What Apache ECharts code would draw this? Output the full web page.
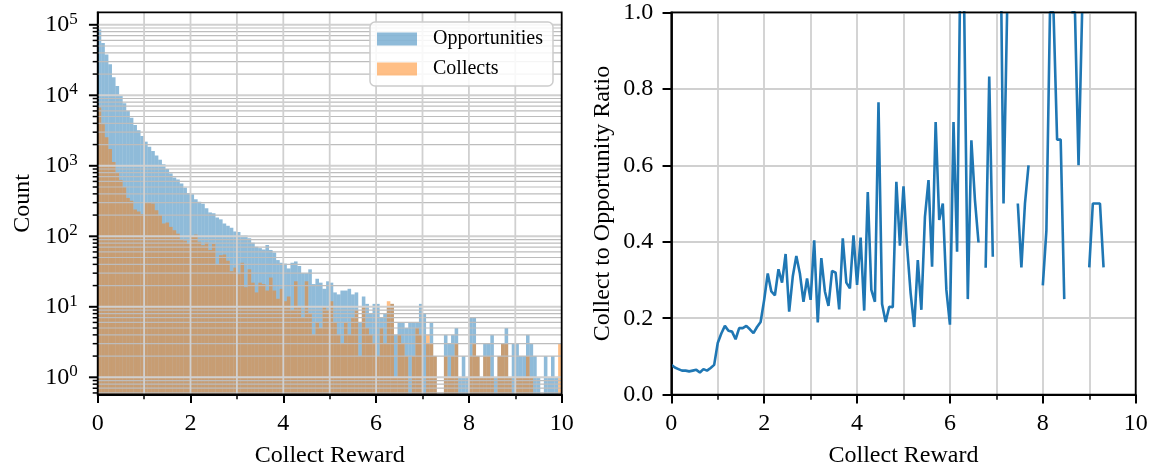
<!DOCTYPE html>
<html>
<head>
<meta charset="utf-8">
<script src="https://cdn.jsdelivr.net/npm/echarts@6/dist/echarts.min.js"></script>
<style>
html, body { margin: 0; background: #fff; }
#chart { width: 1151px; height: 467px; }
</style>
</head>
<body>
<div id="chart"></div>
<script>
// 130 equal bins of Collect Reward over 0..10
var binCount = 130;
var rewardMax = 10;

var opportunities = [
    86000, 55000, 38000, 27500, 18000, 13500, 10000, 7700, 6000, 4800,
    3800, 3200, 2650, 2200, 1860, 1620, 1400, 1220, 1050, 900,
    780, 680, 640, 560, 490, 410, 395, 335, 310, 290,
    250, 218, 212, 185, 174, 152, 141, 132, 117, 115,
    103, 103, 94, 81, 71, 68, 65, 75, 64, 59,
    46, 42, 41, 35, 42, 44, 38, 30, 30, 34,
    21, 25, 22, 18, 23, 22, 16, 15, 17, 17,
    18, 15, 16, 6, 14, 11, 8, 11, 11, 7,
    8, 10, 11, 4, 6, 6, 5, 6, 6, 6,
    11, 8, 3, 6, 2, 0, 0, 4, 3, 4,
    5, 1, 2, 1, 7, 7, 2, 1, 3, 3,
    4, 1, 2, 3, 5, 1, 3, 3, 2, 2,
    4, 3, 2, 1, 0, 2, 1, 2, 1, 0
];
var collects = [
    6700, 3900, 2550, 1730, 1130, 820, 630, 500, 350, 320,
    240, 225, 207, 297, 298, 292, 234, 201, 152, 157,
    136, 122, 109, 90, 87, 78, 98, 106, 84, 75,
    82, 64, 78, 40, 54, 55, 45, 32, 36, 29,
    42, 19, 34, 22, 16, 22, 21, 17, 26, 17,
    13, 18, 12, 14, 9, 23, 10, 7, 23, 8,
    4, 6, 5, 10, 9, 12, 6, 4, 3, 6,
    4, 7, 9, 2, 10, 5, 4, 3, 2, 5,
    3, 12, 11, 1, 4, 3, 2, 0, 2, 5,
    4, 0, 4, 3, 2, 0, 0, 2, 1, 2,
    3, 0, 0, 0, 2, 3, 2, 1, 2, 2,
    1, 0, 2, 3, 3, 1, 0, 1, 1, 1,
    2, 1, 0, 0, 0, 0, 0, 0, 0, 3
];
var ratio = [
    0.078, 0.071, 0.067, 0.063, 0.063, 0.061, 0.063, 0.065, 0.058, 0.067,
    0.063, 0.070, 0.078, 0.135, 0.160, 0.180, 0.167, 0.165, 0.145, 0.174,
    0.174, 0.180, 0.171, 0.161, 0.177, 0.190, 0.248, 0.317, 0.270, 0.260,
    0.328, 0.293, 0.368, 0.217, 0.309, 0.363, 0.317, 0.243, 0.304, 0.248,
    0.404, 0.189, 0.357, 0.270, 0.232, 0.324, 0.319, 0.223, 0.409, 0.293,
    0.278, 0.417, 0.287, 0.411, 0.220, 0.530, 0.274, 0.243, 0.765, 0.237,
    0.190, 0.230, 0.229, 0.557, 0.390, 0.545, 0.387, 0.265, 0.177, 0.352,
    0.222, 0.465, 0.561, 0.335, 0.713, 0.457, 0.500, 0.274, 0.183, 0.713,
    0.374, 1.200, 1.000, 0.250, 0.665, 0.509, 0.398, null, 0.332, 0.832,
    0.361, null, 1.330, 0.500, 1.000, null, null, 0.500, 0.333, 0.500,
    0.600, null, null, null, 0.286, 0.429, 1.000, 1.000, 0.667, 0.667,
    0.250, null, 1.000, 1.000, 0.600, 1.000, null, 0.333, 0.500, 0.500,
    0.500, 0.333, null, null, null, null, null, null, null, null
];

var countMin = 0.574, countMax = 150400;
var decades = [0, 1, 2, 3, 4, 5];
var FONT = 'Liberation Serif';

var binW = rewardMax / binCount;

function histData(counts) {
    var d = [];
    counts.forEach(function (c, i) {
        if (c > 0) d.push([i * binW, c, (i + 1) * binW]);
    });
    return d;
}

function renderBar(params, api) {
    var tl = api.coord([api.value(0), api.value(1)]);
    var br = api.coord([api.value(2), countMin]);
    return {
        type: 'rect',
        shape: { x: tl[0], y: tl[1], width: br[0] - tl[0], height: br[1] - tl[1] },
        style: { fill: api.visual('color') }
    };
}

// log grid lines (major + minor) with their ticks, drawn over the bars like matplotlib
var hLines = [];
decades.forEach(function (k) {
    for (var m = 1; m <= 9; m++) {
        var v = m * Math.pow(10, k);
        if (v <= countMax) hLines.push([0, v, m === 1 ? 1 : 0]);
    }
});
[6, 7, 8, 9].forEach(function (m) { hLines.push([0, m / 10, 0]); });
var vLines = [1, 2, 3, 4, 5, 6, 7, 8, 9].map(function (x) { return [x, countMin]; });

var majorGrid = '#d0d0d0';
var minorGrid = '#bdbdbd';

function renderHLine(params, api) {
    var v = api.value(1);
    var major = api.value(2) === 1;
    var p0 = api.coord([0, v]);
    var p1 = api.coord([rewardMax, v]);
    var tick = major ? 8.75 : 5;
    return {
        type: 'group',
        children: [
            { type: 'line', shape: { x1: p0[0], y1: p0[1], x2: p1[0], y2: p1[1] },
              style: { stroke: major ? majorGrid : minorGrid, lineWidth: major ? 2 : 1.2 } },
            { type: 'line', shape: { x1: p0[0] - tick, y1: p0[1], x2: p0[0], y2: p0[1] },
              style: { stroke: '#000', lineWidth: major ? 2 : 1.5 } }
        ]
    };
}

function renderVLine(params, api) {
    var x = api.value(0);
    var p0 = api.coord([x, countMin]);
    var p1 = api.coord([x, countMax]);
    return {
        type: 'line', shape: { x1: p0[0], y1: p0[1], x2: p1[0], y2: p1[1] },
        style: { stroke: majorGrid, lineWidth: 1.8 }
    };
}

var ratioData = ratio.map(function (r, i) { return [i * binW, r === null ? '-' : r]; });

var tickLabel = { fontFamily: FONT, fontSize: 24, color: '#000' };
var axisName = { fontFamily: FONT, fontSize: 24, color: '#000' };
var spine = { show: true, lineStyle: { color: '#000', width: 1.8 } };
var majorTick = { show: true, length: 8.75, lineStyle: { color: '#000', width: 2 } };
var minorTick = { show: true, splitNumber: 2, length: 5, lineStyle: { color: '#000', width: 1.5 } };

var chart = echarts.init(document.getElementById('chart'));
chart.setOption({
    animation: false,
    backgroundColor: '#fff',
    legend: {
        orient: 'vertical',
        left: 370, top: 22, z: 20,
        itemWidth: 40, itemHeight: 13, itemGap: 10,
        padding: [7, 10, 7, 7],
        backgroundColor: 'rgba(255,255,255,0.85)',
        borderColor: '#cccccc', borderWidth: 1.5, borderRadius: 5,
        textStyle: { fontFamily: FONT, fontSize: 20, color: '#000', padding: [0, 0, 0, 11] },
        data: [
            { name: 'Opportunities', icon: 'rect' },
            { name: 'Collects', icon: 'rect' }
        ]
    },
    grid: [
        { left: 97.7, top: 12.3, right: 589.3, bottom: 72.7, show: true, z: 10,
          containLabel: false, outerBoundsMode: 'none',
          backgroundColor: 'transparent', borderColor: '#000', borderWidth: 1.8 },
        { left: 671.3, top: 12.3, right: 15.3, bottom: 72.3, show: true, z: 10,
          containLabel: false, outerBoundsMode: 'none',
          backgroundColor: 'transparent', borderColor: '#000', borderWidth: 1.8 }
    ],
    xAxis: [
        {
            gridIndex: 0, type: 'value', min: 0, max: rewardMax, interval: 2,
            name: 'Collect Reward', nameLocation: 'middle', nameGap: 49, nameTextStyle: axisName,
            axisLine: spine, axisTick: majorTick, minorTick: minorTick,
            axisLabel: Object.assign({ margin: 17 }, tickLabel),
            splitLine: { show: false }
        },
        {
            gridIndex: 1, type: 'value', min: 0, max: rewardMax, interval: 2,
            name: 'Collect Reward', nameLocation: 'middle', nameGap: 49, nameTextStyle: axisName,
            axisLine: spine, axisTick: majorTick, minorTick: minorTick,
            axisLabel: Object.assign({ margin: 17 }, tickLabel),
            splitLine: { show: true, lineStyle: { color: majorGrid, width: 1.8 } },
            minorSplitLine: { show: true, lineStyle: { color: majorGrid, width: 1.8 } }
        }
    ],
    yAxis: [
        {
            gridIndex: 0, type: 'log', logBase: 10, min: countMin, max: countMax,
            name: 'Count', nameLocation: 'middle', nameGap: 63, nameTextStyle: axisName,
            axisLine: spine,
            axisTick: { show: false },
            splitLine: { show: false },
            axisLabel: {
                margin: 20,
                showMinLabel: false, showMaxLabel: false,
                fontFamily: FONT, fontSize: 24, color: '#000',
                formatter: function (v) {
                    var l = Math.log10(v);
                    var k = Math.round(l);
                    if (Math.abs(l - k) > 1e-6) return '';
                    return '10{sup|' + k + '}';
                },
                rich: {
                    sup: { fontFamily: FONT, fontSize: 17, color: '#000', verticalAlign: 'bottom', padding: [0, 0, 11, 0] }
                }
            }
        },
        {
            gridIndex: 1, type: 'value', min: 0, max: 1, interval: 0.2,
            name: 'Collect to Opportunity Ratio', nameLocation: 'middle', nameGap: 57, nameTextStyle: axisName,
            axisLine: spine, axisTick: majorTick,
            splitLine: { show: true, lineStyle: { color: majorGrid, width: 1.8 } },
            axisLabel: Object.assign({ margin: 18, formatter: function (v) { return v.toFixed(1); } }, tickLabel)
        }
    ],
    series: [
        {
            name: 'Opportunities', type: 'custom', xAxisIndex: 0, yAxisIndex: 0,
            itemStyle: { color: 'rgba(31,119,180,0.5)' },
            encode: { x: [0, 2], y: 1 },
            renderItem: renderBar,
            data: histData(opportunities), z: 2
        },
        {
            name: 'Collects', type: 'custom', xAxisIndex: 0, yAxisIndex: 0,
            itemStyle: { color: 'rgba(255,127,14,0.5)' },
            encode: { x: [0, 2], y: 1 },
            renderItem: renderBar,
            data: histData(collects), z: 3
        },
        {
            name: 'hgrid', type: 'custom', xAxisIndex: 0, yAxisIndex: 0, silent: true,
            encode: { x: 0, y: 1 },
            renderItem: renderHLine, data: hLines, z: 4
        },
        {
            name: 'vgrid', type: 'custom', xAxisIndex: 0, yAxisIndex: 0, silent: true,
            encode: { x: 0, y: 1 },
            renderItem: renderVLine, data: vLines, z: 4
        },
        {
            name: 'Ratio', type: 'line', xAxisIndex: 1, yAxisIndex: 1,
            data: ratioData, showSymbol: false, connectNulls: false,
            lineStyle: { color: '#1f77b4', width: 2.6 }, itemStyle: { color: '#1f77b4' },
            clip: true
        }
    ]
});
</script>
</body>
</html>
